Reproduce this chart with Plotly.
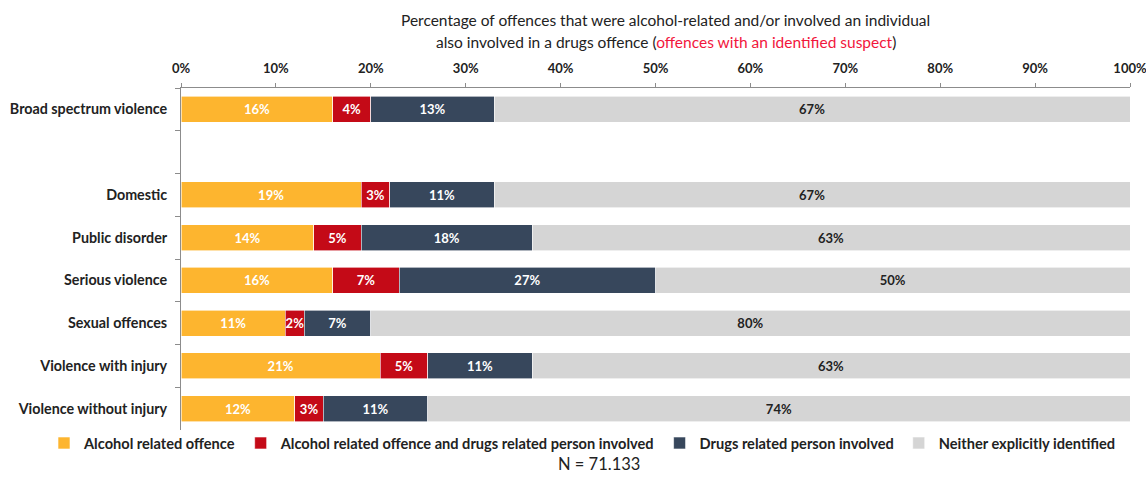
import plotly.graph_objects as go

# Offence categories (top to bottom); the blank entry leaves an empty row
categories = [
    "Broad spectrum violence",
    " ",
    "Domestic",
    "Public disorder",
    "Serious violence",
    "Sexual offences",
    "Violence with injury",
    "Violence without injury",
]

# Share of offences (%) in each group
alcohol = [16, None, 19, 14, 16, 11, 21, 12]
alcohol_and_drugs = [4, None, 3, 5, 7, 2, 5, 3]
drugs = [13, None, 11, 18, 27, 7, 11, 11]
neither = [67, None, 67, 63, 50, 80, 63, 74]

series_names = [
    "Alcohol related offence",
    "Alcohol related offence and drugs related person involved",
    "Drugs related person involved",
    "Neither explicitly identified",
]
series_values = [alcohol, alcohol_and_drugs, drugs, neither]
series_colors = ["#FDB52F", "#C40A17", "#37475C", "#D5D5D5"]
text_colors = ["white", "white", "white", "#222222"]

x_ticks = list(range(0, 101, 10))

FONT = "Lato"

fig = go.Figure()
for name, vals, col, tcol in zip(series_names, series_values, series_colors, text_colors):
    fig.add_trace(go.Bar(
        y=categories,
        x=vals,
        name=name,
        orientation="h",
        marker=dict(color=col, line=dict(color="white", width=0.6)),
        texttemplate="%{x:.0f}%",
        textposition="inside",
        insidetextanchor="middle",
        textangle=0,
        textfont=dict(family=FONT, size=13, color=tcol, weight="bold"),
        hoverinfo="skip",
    ))

fig.update_layout(
    barmode="stack",
    bargap=0.39,
    width=1146,
    height=477,
    margin=dict(l=181, r=16, t=88, b=47, autoexpand=False),
    paper_bgcolor="white",
    plot_bgcolor="white",
    font=dict(family=FONT, color="#222222"),
    uniformtext=dict(minsize=12, mode="show"),
    showlegend=True,
    legend=dict(
        orientation="h",
        xref="paper", yref="paper",
        x=(44 - 181) / 949, xanchor="left",
        y=(430 - 443) / 342, yanchor="middle",
        bgcolor="rgba(0,0,0,0)",
        font=dict(family=FONT, size=14.6, color="#222222", weight="bold"),
        traceorder="normal",
        itemwidth=30,
        tracegroupgap=0,
    ),
    xaxis=dict(
        side="top",
        range=[0, 100],
        tickvals=x_ticks,
        ticktext=[f"{v}%" for v in x_ticks],
        showgrid=False,
        zeroline=False,
        showline=True,
        linecolor="#8C8C8C",
        linewidth=1,
        ticks="outside",
        ticklen=4,
        tickcolor="#8C8C8C",
        tickfont=dict(family=FONT, size=13, color="#222222", weight="bold"),
        ticklabelstandoff=5,
        ticklabeloverflow="allow",
        fixedrange=True,
    ),
    yaxis=dict(
        type="category",
        categoryorder="array",
        categoryarray=categories,
        range=[7.5, -0.5],
        showgrid=False,
        zeroline=False,
        showline=True,
        linecolor="#8C8C8C",
        linewidth=1,
        ticks="outside",
        tickson="boundaries",
        ticklen=5,
        tickcolor="#8C8C8C",
        tickfont=dict(family=FONT, size=14.3, color="#222222", weight="bold"),
        ticklabelstandoff=10,
        fixedrange=True,
    ),
)

# Two-line heading with the highlighted qualifier in red
fig.add_annotation(
    text="Percentage of offences that were alcohol-related and/or involved an individual",
    xref="paper", yref="paper", x=0.511, y=(430 - 20) / 342,
    showarrow=False, xanchor="center", yanchor="middle",
    font=dict(family=FONT, size=15.5, color="#222222"),
)
fig.add_annotation(
    text="also involved in a drugs offence (<span style='color:#F2163C'>offences with an identified suspect</span>)",
    xref="paper", yref="paper", x=0.511, y=(430 - 42) / 342,
    showarrow=False, xanchor="center", yanchor="middle",
    font=dict(family=FONT, size=15.5, color="#222222"),
)

# Sample size note
fig.add_annotation(
    text="N = 71.133",
    xref="paper", yref="paper", x=(599 - 181) / 949, y=(430 - 464) / 342,
    showarrow=False, xanchor="center", yanchor="middle",
    font=dict(family=FONT, size=16.5, color="#222222"),
)

fig.write_html("out.html")
